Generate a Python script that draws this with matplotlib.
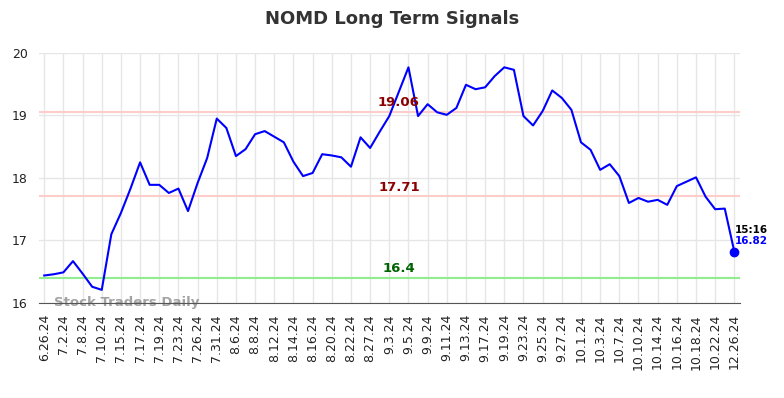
import numpy as np
import matplotlib
matplotlib.use("Agg")
import matplotlib.pyplot as plt

# ===== 数据 =====
tick_labels = ["6.26.24", "7.2.24", "7.8.24", "7.10.24", "7.15.24", "7.17.24", "7.19.24",
               "7.23.24", "7.26.24", "7.31.24", "8.6.24", "8.8.24", "8.12.24", "8.14.24",
               "8.16.24", "8.20.24", "8.22.24", "8.27.24", "9.3.24", "9.5.24", "9.9.24",
               "9.11.24", "9.13.24", "9.17.24", "9.19.24", "9.23.24", "9.25.24", "9.27.24",
               "10.1.24", "10.3.24", "10.7.24", "10.10.24", "10.14.24", "10.16.24",
               "10.18.24", "10.22.24", "12.26.24"]

prices = [16.44, 16.46, 16.49, 16.67, 16.47, 16.26, 16.21, 17.10, 17.44, 17.83,
          18.25, 17.89, 17.89, 17.76, 17.83, 17.47, 17.92, 18.32, 18.95, 18.80,
          18.35, 18.46, 18.70, 18.75, 18.66, 18.57, 18.26, 18.03, 18.08, 18.38,
          18.36, 18.33, 18.18, 18.65, 18.48, 18.74, 18.99, 19.38, 19.77, 18.99,
          19.18, 19.05, 19.01, 19.12, 19.49, 19.42, 19.45, 19.63, 19.77, 19.73,
          18.99, 18.84, 19.07, 19.40, 19.28, 19.09, 18.57, 18.45, 18.13, 18.22,
          18.03, 17.60, 17.68, 17.62, 17.65, 17.57, 17.87, 17.94, 18.01, 17.70,
          17.50, 17.51, 16.82]

upper_level = 19.06
mid_level = 17.71
lower_level = 16.4
last_time = "15:16"

# ===== 绘图 =====
x = np.arange(len(prices))
fig = plt.figure(figsize=(7.84, 3.98), dpi=100)
ax = fig.add_axes([0.0497, 0.2387, 0.8943, 0.6283])

ax.plot(x, prices, color="#0000ff", linewidth=1.5, zorder=3)
ax.plot(x[-1], prices[-1], "o", color="#0000ff", markersize=6, zorder=4)

ax.axhline(upper_level, color="#ffcccc", linewidth=1.5, zorder=2)
ax.axhline(mid_level, color="#ffcccc", linewidth=1.5, zorder=2)
ax.axhline(lower_level, color="#90ee90", linewidth=1.5, zorder=2)

xm = 37.0
ax.text(xm, upper_level + 0.04, f"{upper_level:.2f}", color="#8b0000", fontsize=9.5,
        fontweight="bold", ha="center", va="bottom")
ax.text(xm, mid_level + 0.04, f"{mid_level:.2f}", color="#8b0000", fontsize=9.5,
        fontweight="bold", ha="center", va="bottom")
ax.text(xm, lower_level + 0.04, f"{lower_level}", color="#006400", fontsize=9.5,
        fontweight="bold", ha="center", va="bottom")

ax.text(x[-1] + 0.0, prices[-1] + 0.27, last_time, color="black", fontsize=7.5,
        fontweight="bold", ha="left", va="bottom")
ax.text(x[-1] + 0.0, prices[-1] + 0.25, f"{prices[-1]:.2f}", color="#0000ff", fontsize=7.5,
        fontweight="bold", ha="left", va="top")

ax.text(1, 16.0, "Stock Traders Daily", color="#999999", alpha=0.9, fontsize=9.5,
        fontweight="bold", ha="left", va="center", zorder=1)

ax.set_xlim(-0.55, len(prices) - 1 + 0.6)
ax.set_ylim(16, 20)
ax.set_yticks([16, 17, 18, 19, 20])
ax.set_xticks(x[::2])
ax.set_xticklabels(tick_labels, rotation=90, fontsize=9)
ax.tick_params(axis="both", length=0, colors="#222222", labelsize=9)
ax.tick_params(axis="x", pad=8)
ax.tick_params(axis="y", pad=8)
ax.grid(True, color="#e6e6e6", linewidth=1)
ax.set_axisbelow(True)
for s in ["top", "right", "left"]:
    ax.spines[s].set_visible(False)
ax.spines["bottom"].set_color("#555555")

fig.suptitle("NOMD Long Term Signals", x=0.5, y=0.975, fontsize=13, fontweight="bold",
             color="#333333")

fig.savefig("out.png", dpi=100)
